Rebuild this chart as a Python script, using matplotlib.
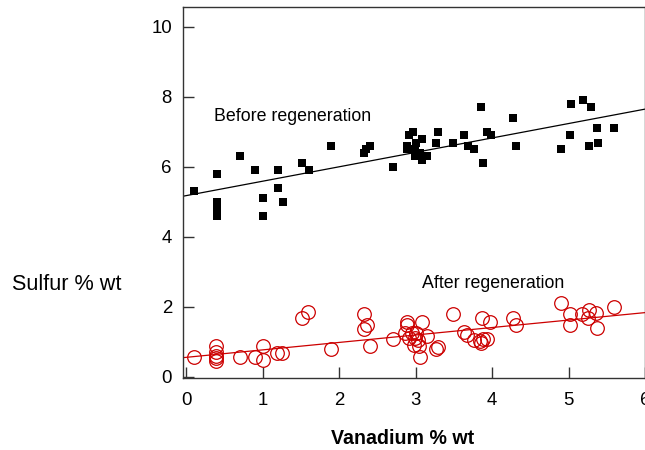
import matplotlib
matplotlib.use("Agg")
import matplotlib.pyplot as plt
import numpy as np

plt.rcParams['font.family'] = ['Liberation Sans', 'DejaVu Sans']

# Before regeneration (filled squares)
before_x = [0.1, 0.4, 0.4, 0.4, 0.4, 0.7, 0.9, 1.0, 1.0, 1.2, 1.2, 1.27, 1.51, 1.61,
            1.9, 2.32, 2.35, 2.4, 2.71, 2.89, 2.89, 2.92, 2.97, 3.0, 2.99, 2.99,
            3.09, 3.06, 3.08, 3.15, 3.03, 3.27, 3.30, 3.49, 3.64, 3.69, 3.77, 3.86,
            3.88, 3.93, 3.99, 4.28, 4.32, 4.9, 5.02, 5.03, 5.19, 5.29, 5.27, 5.37,
            5.38, 5.6]
before_y = [5.3, 5.8, 5.0, 4.8, 4.6, 6.3, 5.9, 5.1, 4.6, 5.9, 5.4, 5.0, 6.1, 5.9,
            6.6, 6.4, 6.5, 6.6, 6.0, 6.6, 6.5, 6.9, 7.0, 6.68, 6.5, 6.31,
            6.79, 6.39, 6.2, 6.3, 6.3, 6.69, 7.0, 6.69, 6.9, 6.6, 6.5, 7.7,
            6.1, 7.0, 6.9, 7.4, 6.6, 6.5, 6.9, 7.8, 7.9, 7.7, 6.6, 7.1,
            6.69, 7.1]

# After regeneration (open circles)
after_x = [0.1, 0.39, 0.39, 0.39, 0.39, 0.39, 0.7, 0.9, 1.0, 1.0, 1.19, 1.26, 1.51,
           1.6, 1.89, 2.32, 2.36, 2.32, 2.4, 2.7, 2.89, 2.89, 3.08, 2.86, 2.95, 3.0,
           2.92, 2.99, 3.03, 2.98, 3.05, 3.06, 3.15, 3.27, 3.29, 3.49, 3.64, 3.67,
           3.77, 3.84, 3.86, 3.88, 3.93, 3.87, 3.98, 4.27, 4.32, 4.9, 5.02, 5.02,
           5.18, 5.27, 5.26, 5.36, 5.37, 5.59]
after_y = [0.58, 0.89, 0.72, 0.6, 0.53, 0.47, 0.58, 0.58, 0.89, 0.49, 0.68, 0.68, 1.68,
           1.87, 0.79, 1.79, 1.49, 1.36, 0.89, 1.09, 1.58, 1.49, 1.58, 1.25, 1.25, 1.25,
           1.1, 1.1, 1.06, 0.91, 0.89, 0.56, 1.17, 0.79, 0.85, 1.79, 1.29, 1.2,
           1.06, 1.03, 0.96, 1.08, 1.08, 1.69, 1.58, 1.69, 1.49, 2.1, 1.79, 1.49,
           1.79, 1.91, 1.68, 1.82, 1.39, 1.99]

# Regression lines: intercept, slope
before_fit = [5.18, 0.412]
after_fit = [0.56, 0.213]

x_ticks = [0, 1, 2, 3, 4, 5, 6]
y_ticks = [0, 2, 4, 6, 8, 10]

fig = plt.figure(figsize=(6.45, 4.5), dpi=100)
ax = fig.add_axes([183/645, 1 - 378/450, (645 - 183)/645, (378 - 7)/450])

red = '#cc0000'
ax.plot(before_x, before_y, 's', color='black', markersize=5.8, markeredgewidth=0)
ax.plot(after_x, after_y, 'o', mfc='none', mec=red, markersize=9.8, markeredgewidth=0.9)

xl = np.array([-0.04, 6.0])
ax.plot(xl, before_fit[0] + before_fit[1]*xl, color='black', lw=0.9)
ax.plot(xl, after_fit[0] + after_fit[1]*xl, color=red, lw=0.9)

ax.set_xlim(-0.04, 6.0)
ax.set_ylim(-0.03, 10.57)
ax.set_xticks(x_ticks)
ax.set_yticks(y_ticks)
ax.tick_params(direction='in', length=8, width=1, labelsize=13.4, color='#333333')
ax.tick_params(axis='x', pad=10)
ax.tick_params(axis='y', pad=8)
for s in ax.spines.values():
    s.set_linewidth(1)
    s.set_color('#333333')

ax.text(0.36, 7.45, 'Before regeneration', fontsize=12.8, va='center', ha='left')
ax.text(3.08, 2.68, 'After regeneration', fontsize=12.8, va='center', ha='left')

fig.text(12/645, 1 - 285/450, 'Sulfur % wt', fontsize=15.6, va='center', ha='left')
fig.text(403/645, 1 - 438/450, 'Vanadium % wt', fontsize=14.1, fontweight='bold',
         va='center', ha='center')

fig.savefig('out.png', dpi=100)
